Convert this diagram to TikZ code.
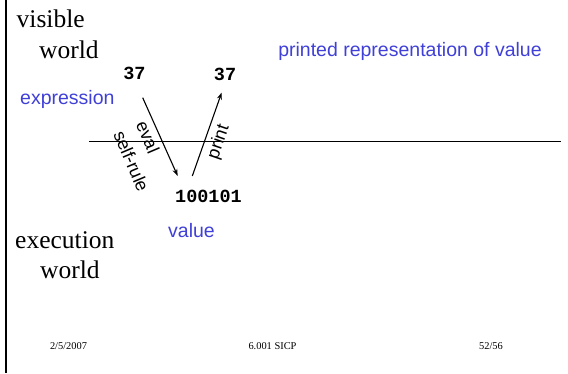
\documentclass[tikz,border=0pt]{standalone}
\usepackage{fontspec}
\setmainfont{Liberation Serif}
\setsansfont{Liberation Sans}
\setmonofont{Liberation Mono}
\usetikzlibrary{arrows.meta}
\definecolor{slideblue}{RGB}{64,64,216}
\tikzset{
  big/.style={inner sep=0pt, font=\fontsize{25.5}{30}\selectfont\rmfamily},
  bluelbl/.style={inner sep=0pt, text=slideblue, font=\fontsize{19.5}{23}\sffamily},
  code/.style={inner sep=0pt, font=\fontsize{18.5}{22}\ttfamily\bfseries},
  rot/.style={inner sep=0pt, font=\fontsize{18}{22}\sffamily},
  foot/.style={inner sep=0pt, font=\fontsize{10.4}{12}\rmfamily},
  arr/.style={line width=1.1pt, -{Stealth[length=7pt,width=5pt]}},
}
\begin{document}
\begin{tikzpicture}[x=1pt,y=-1pt]
\useasboundingbox (0,0) rectangle (568,373);
\fill[white] (0,0) rectangle (568,373);
% left border
\draw[line width=2.6pt] (6,0) -- (6,373);
% titles
\node[big, anchor=base west] (vis) at (16.5,27) {visible};
\node[big, anchor=base west] (vw) at (39,58) {world};
\node[big, anchor=base west] (exe) at (15,248) {execution};
\node[big, anchor=base west] (ew) at (40,278) {world};
% blue labels
\node[bluelbl, anchor=base west] (expr) at (20,104) {expression};
\node[bluelbl, anchor=base] (prv) at (410,56) {printed representation of value};
\node[bluelbl, anchor=base] (val) at (191.5,237) {value};
% code
\node[code] (n37a) at (134.5,73) {37};
\node[code] (n37b) at (225,74.5) {37};
\node[code] (bits) at (208.5,196.5) {100101};
% horizontal divider
\coordinate (hl) at (89,141.7);
\coordinate (hr) at (561,141.7);
\draw[line width=1.3pt] (hl) -- (hr);
% arrows
\coordinate (ds) at (142.7,97.7);
\coordinate (de) at (177.7,176);
\coordinate (us) at (192.3,176);
\coordinate (ue) at (221.7,92.5);
\draw[arr] (ds) -- (de);
\draw[arr] (us) -- (ue);
% rotated labels
\node[rot, rotate=-67] (eval) at (148,137) {eval};
\node[rot, rotate=-67] (self) at (131.5,161) {self-rule};
\node[rot, rotate=71] (print) at (219,142) {print};
% footer
\node[foot] (date) at (68.5,346) {2/5/2007};
\node[foot] (course) at (272.5,346) {6.001 SICP};
\node[foot] (page) at (491,346) {52/56};
\end{tikzpicture}
\end{document}
